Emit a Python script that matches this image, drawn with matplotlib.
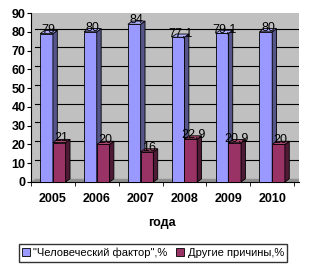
import matplotlib
matplotlib.use("Agg")
import matplotlib.pyplot as plt
from matplotlib.patches import Polygon, Patch

# data
years = ["2005", "2006", "2007", "2008", "2009", "2010"]
human = [79, 80, 84, 77.1, 79.1, 80]
other = [21, 20, 16, 22.9, 20.9, 20]
human_lbl = ["79", "80", "84", "77,1", "79,1", "80"]
other_lbl = ["21", "20", "16", "22,9", "20,9", "20"]
series_names = ['"Человеческий фактор",%', "Другие причины,%"]

plt.rcParams["font.family"] = ["Liberation Sans", "DejaVu Sans"]

fig = plt.figure(figsize=(3.12, 2.68), dpi=100)
ax = fig.add_axes([31 / 312, 1 - 182 / 268, 267.5 / 312, 169 / 268])
ax.set_facecolor("#c0c0c0")

w = 0.29      # bar width (data)
dx = 0.1      # depth offset x
dy = 1.7      # depth offset y

# grid lines on back wall
for g in range(10, 100, 10):
    ax.plot([-0.5 + dx, 5.65], [g + dy, g + dy], color="black", lw=0.8, zorder=1)
# floor
ax.add_patch(Polygon([(-0.5, 0), (-0.5 + dx, dy), (5.65, dy), (5.6, 0)],
                     closed=True, facecolor="#909090", edgecolor="none", zorder=1))


def draw_bars(xs, vals, front, side, top):
    ax.bar(xs, vals, width=w, align="edge", color=front, edgecolor="black",
           linewidth=0.6, zorder=3)
    for x, v in zip(xs, vals):
        ax.add_patch(Polygon([(x + w, 0), (x + w + dx, dy), (x + w + dx, v + dy), (x + w, v)],
                             closed=True, facecolor=side, edgecolor="black",
                             linewidth=0.6, zorder=3))
        ax.add_patch(Polygon([(x, v), (x + dx, v + dy), (x + w + dx, v + dy), (x + w, v)],
                             closed=True, facecolor=top, edgecolor="black",
                             linewidth=0.6, zorder=3))


pos = list(range(len(years)))
xs_h = [p - w for p in pos]
xs_o = [p for p in pos]
draw_bars(xs_h, human, "#9999ff", "#55558a", "#b0b0ff")
draw_bars(xs_o, other, "#993366", "#4f1a35", "#a8466f")

for x, v, t in zip(xs_h, human, human_lbl):
    ax.text(x + (w + dx) / 2, v + 2.2, t, ha="center", va="center", fontsize=9, zorder=5)
for x, v, t in zip(xs_o, other, other_lbl):
    ax.text(x + (w + dx) / 2, v + 2.2, t, ha="center", va="center", fontsize=9, zorder=5)

ax.set_xlim(-0.5, 5.6)
ax.set_ylim(0, 90)
ax.set_yticks(range(0, 100, 10))
ax.set_yticklabels([str(v) for v in range(0, 100, 10)], fontweight="bold", fontsize=9)
ax.set_xticks(pos)
ax.set_xticklabels(years, fontweight="bold", fontsize=9)
ax.set_xticks([p - 0.5 for p in range(len(years) + 1)], minor=True)
ax.tick_params(axis="x", which="major", length=0, pad=8)
ax.tick_params(axis="x", which="minor", length=3, direction="out")
ax.tick_params(axis="y", length=3, direction="out", pad=1)
for s in ["top", "right"]:
    ax.spines[s].set_visible(False)
ax.spines["left"].set_linewidth(0.8)
ax.spines["bottom"].set_linewidth(0.8)

fig.text(162 / 312, 1 - 223 / 268, "года", ha="center", va="center",
         fontweight="bold", fontsize=9)

handles = [Patch(facecolor="#9999ff", edgecolor="black", linewidth=0.6),
           Patch(facecolor="#993366", edgecolor="black", linewidth=0.6)]
fig.legend(handles, series_names, loc="center", bbox_to_anchor=(153 / 312, 1 - 253 / 268),
           ncol=2, fontsize=8, frameon=True, fancybox=False, edgecolor="black",
           handlelength=0.7, handleheight=0.7, handletextpad=0.3, columnspacing=0.8,
           borderpad=0.3, borderaxespad=0)

fig.savefig("out.png", dpi=100)
